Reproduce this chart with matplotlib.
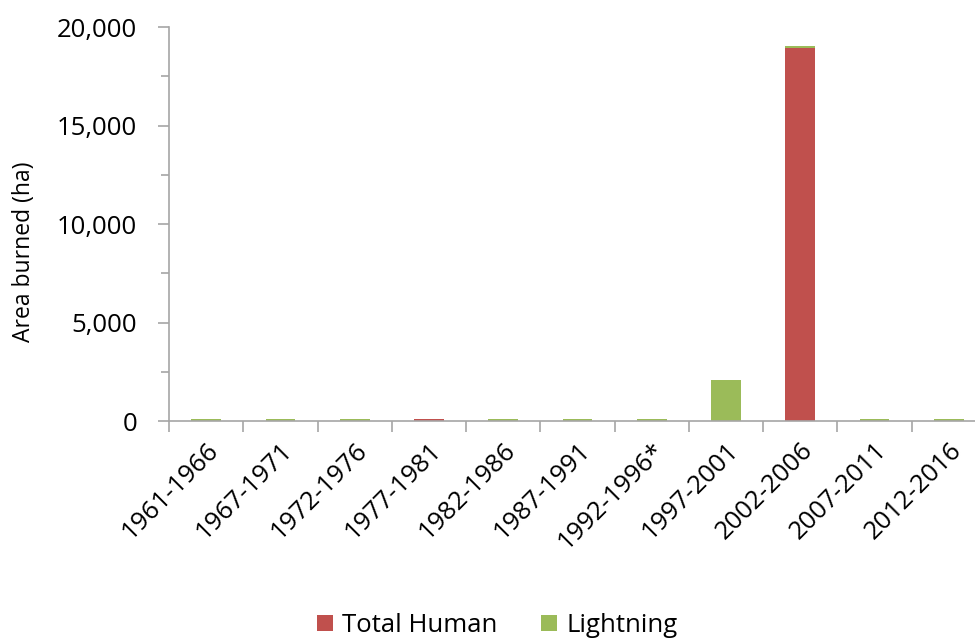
import matplotlib
matplotlib.use("Agg")
import matplotlib.pyplot as plt
import numpy as np
from matplotlib.ticker import FuncFormatter, FixedLocator, MultipleLocator

periods = ["1961-1966", "1967-1971", "1972-1976", "1977-1981", "1982-1986",
           "1987-1991", "1992-1996*", "1997-2001", "2002-2006", "2007-2011", "2012-2016"]
total_human = [0, 0, 0, 100, 0, 0, 0, 0, 18950, 0, 0]
lightning = [100, 100, 100, 0, 100, 100, 100, 2090, 100, 100, 100]

plt.rcParams['font.family'] = ['Open Sans', 'DejaVu Sans']

fig = plt.figure(figsize=(9.75, 6.42), dpi=100)
ax = fig.add_axes([0.1733, 0.3442, 0.838, 0.6137])

x = np.arange(len(periods))
w = 0.4
ax.bar(x, total_human, width=w, color='#C0504D', label='Total Human')
ax.bar(x, lightning, width=w, bottom=total_human, color='#9BBB59', label='Lightning')

ax.set_xlim(-0.5, len(periods) - 0.5)
ax.set_ylim(0, 20000)
ax.set_yticks([0, 5000, 10000, 15000, 20000])
ax.yaxis.set_minor_locator(MultipleLocator(2500))
ax.yaxis.set_major_formatter(FuncFormatter(lambda v, p: f"{int(v):,}"))
ax.set_ylabel("Area burned (ha)", fontsize=16.5, color='#000000')
ax.yaxis.set_label_coords(-0.163, 0.43)

ax.xaxis.set_major_locator(FixedLocator(np.arange(-0.5, len(periods), 1.0)))
ax.xaxis.set_major_formatter(FuncFormatter(lambda v, p: ""))
ax.xaxis.set_minor_locator(FixedLocator(x))
ax.set_xticklabels(periods, minor=True, rotation=45, ha='right', rotation_mode='anchor', fontsize=18.5)
ax.tick_params(axis='x', which='major', length=8, color='#A6A6A6', width=1.2, direction='out')
ax.tick_params(axis='x', which='minor', length=0, pad=12)
ax.tick_params(axis='y', which='major', length=8, color='#A6A6A6', width=1.2, labelsize=18.5, pad=15)
ax.tick_params(axis='y', which='minor', length=5.5, color='#A6A6A6', width=1.2)

for s in ['top', 'right']:
    ax.spines[s].set_visible(False)
for s in ['left', 'bottom']:
    ax.spines[s].set_color('#A6A6A6')
    ax.spines[s].set_linewidth(1.2)

fig.legend(loc='lower center', bbox_to_anchor=(0.51, -0.03), ncol=2, frameon=False,
           fontsize=18.5, handlelength=0.62, handleheight=0.62, handletextpad=0.35, columnspacing=1.7)

fig.savefig("out.png", dpi=100)
